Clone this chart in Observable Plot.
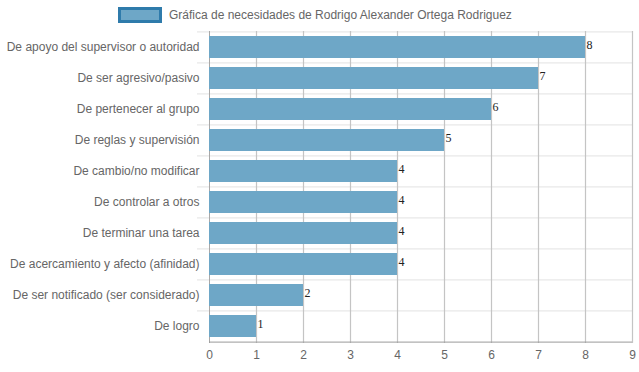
<!DOCTYPE html>
<html>
<head>
<meta charset="utf-8">
<script src="https://cdn.jsdelivr.net/npm/d3@7"></script>
<script src="https://cdn.jsdelivr.net/npm/@observablehq/plot@0.6"></script>
<style>
  html, body { margin: 0; padding: 0; background: #fff; }
  #wrap { position: relative; width: 639px; height: 372px; font-family: "Liberation Sans", Arial, sans-serif; }
  #legend { position: absolute; top: 7px; left: 118px; display: flex; align-items: center; font-size: 12px; color: #666; }
  #legend .box { width: 38px; height: 10px; background: #6ea7c7; border: 3px solid #2f7bab; margin-right: 7px; }
  svg { display: block; }
</style>
</head>
<body>
<div id="wrap">
  <div id="legend"><div class="box"></div><span>Gráfica de necesidades de Rodrigo Alexander Ortega Rodriguez</span></div>
  <div id="chart"></div>
</div>
<script>
const categories = [
  "De apoyo del supervisor o autoridad",
  "De ser agresivo/pasivo",
  "De pertenecer al grupo",
  "De reglas y supervisión",
  "De cambio/no modificar",
  "De controlar a otros",
  "De terminar una tarea",
  "De acercamiento y afecto (afinidad)",
  "De ser notificado (ser considerado)",
  "De logro"
];
const values = [8, 7, 6, 5, 4, 4, 4, 4, 2, 1];
const xTicks = [0, 1, 2, 3, 4, 5, 6, 7, 8, 9];

const data = categories.map((c, i) => ({ category: c, value: values[i] }));
const plotH = 372 - 31 - 29;
const step = plotH / categories.length;

const chart = Plot.plot({
  width: 639,
  height: 372,
  marginLeft: 209,
  marginRight: 7,
  marginTop: 31,
  marginBottom: 29,
  style: { fontFamily: "'Liberation Sans', Arial, sans-serif", fontSize: "12px", color: "#666", background: "transparent" },
  x: { domain: [0, 9], ticks: xTicks, label: null },
  y: { domain: categories, paddingInner: 0.29, paddingOuter: 0.145, label: null },
  marks: [
    Plot.ruleY(categories, { dy: -step / 2, stroke: "#e8e8e8", strokeWidth: 1.3, insetLeft: -12 }),
    Plot.ruleX(xTicks.slice(1), { stroke: "#c4c4c4", strokeWidth: 1.2 }),
    Plot.ruleX([0], { stroke: "#a8a8a8" }),
    Plot.barX(data, { x: "value", y: "category", fill: "#6ea7c7" }),
    Plot.ruleY([categories[categories.length - 1]], { dy: step / 2, stroke: "#999" }),
    Plot.text(data, { x: "value", y: "category", text: d => String(d.value), textAnchor: "start", dx: 1, dy: -2, fill: "#222", fontFamily: "'Liberation Serif', 'Times New Roman', serif", fontSize: 12 }),
    Plot.axisX({ ticks: xTicks, tickSize: 0, tickPadding: 7, label: null, fill: "#666", fontSize: 12 }),
    Plot.axisY({ tickSize: 0, tickPadding: 10, label: null, fill: "#666", fontSize: 12 })
  ]
});
document.getElementById("chart").appendChild(chart);
</script>
</body>
</html>
